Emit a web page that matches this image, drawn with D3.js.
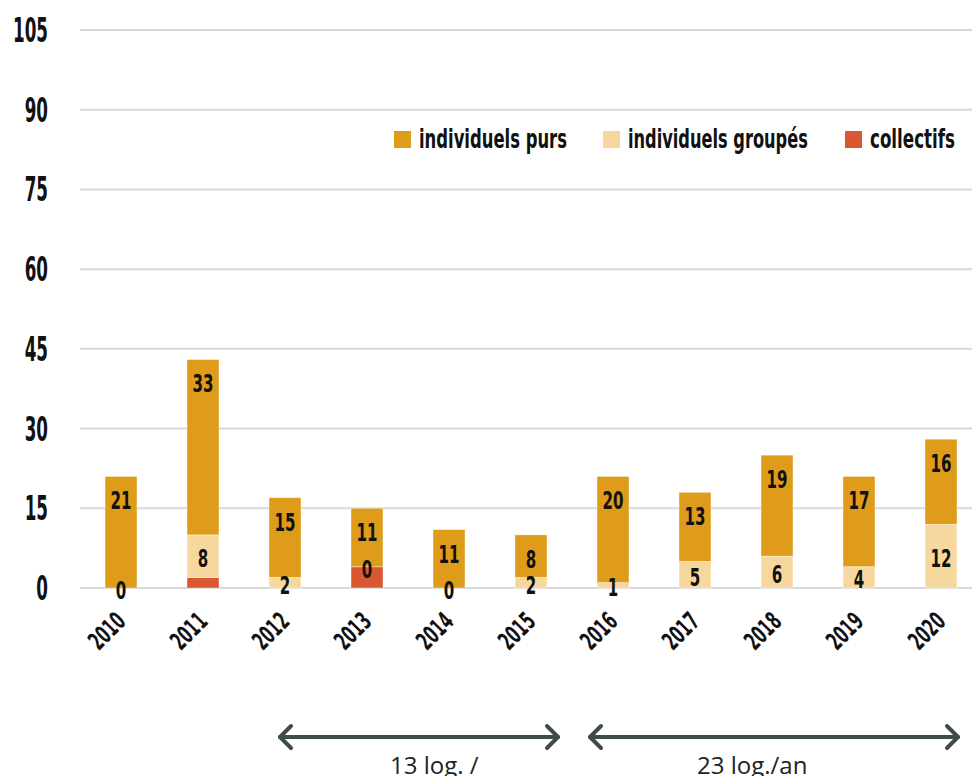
<!DOCTYPE html>
<html><head><meta charset="utf-8">
<script src="https://cdn.jsdelivr.net/npm/d3@7"></script>
<style>body{margin:0;background:#fff}</style>
</head><body>
<svg id="chart" width="972" height="776"></svg>
<script>
const years = ["2010","2011","2012","2013","2014","2015","2016","2017","2018","2019","2020"];
const purs = [21,33,15,11,11,8,20,13,19,17,16];
const groupes = [0,8,2,0,0,2,1,5,6,4,12];
const collectifs = [0,2,0,4,0,0,0,0,0,0,0];
const yTicks = [0,15,30,45,60,75,90,105];
const seriesNames = ["individuels purs","individuels groupés","collectifs"];
const seriesColors = ["#DE9C1A","#F6D89E","#D95832"];
const periodLabels = ["13 log. /","23 log./an"];
const periodFrom = ["2012","2016"];
const periodTo = ["2015","2020"];

const COND = "'DejaVu Sans Condensed','Liberation Sans Narrow',sans-serif";
const svg = d3.select("#chart");
const x = d3.scaleBand().domain(years).range([80,982]).paddingInner(0.61).paddingOuter(0.305);
const y = d3.scaleLinear().domain([0,105]).range([588,30]);

// horizontal scale so that `str` at `size` gets width `target`
function fitScale(str, size, target){
  const t = svg.append("text").attr("font-family",COND).attr("font-weight","bold").attr("font-size",size).text(str);
  const w = t.node().getComputedTextLength();
  t.remove();
  return target / w;
}
const sTick = fitScale("105",33,35);
const sBar = fitScale("33",25,21);
const sX = fitScale("2010",25,40);
const legWidths = [148,180,85];

// grid
svg.append("g").selectAll("line").data(yTicks).join("line")
  .attr("x1",80).attr("x2",972).attr("y1",d=>y(d)).attr("y2",d=>y(d))
  .attr("stroke","#d9d9d9").attr("stroke-width",2);

// y tick labels
svg.append("g").selectAll("text").data(yTicks).join("text")
  .attr("transform",d=>`translate(48,${y(d)+12}) scale(${sTick},1)`)
  .attr("text-anchor","end").attr("font-family",COND).attr("font-weight","bold")
  .attr("font-size",33).attr("fill","#111").text(d=>d);

// stacked data
const rows = years.map((yr,i)=>({year:yr, collectifs:collectifs[i], groupes:groupes[i], purs:purs[i]}));
const keys = ["collectifs","groupes","purs"];
const colorOf = {purs:seriesColors[0], groupes:seriesColors[1], collectifs:seriesColors[2]};
const stacked = d3.stack().keys(keys)(rows);

svg.append("g").selectAll("g").data(stacked).join("g")
  .attr("fill",s=>colorOf[s.key])
  .selectAll("rect").data(s=>s).join("rect")
  .attr("x",d=>x(d.data.year)).attr("width",x.bandwidth())
  .attr("y",d=>y(d[1])).attr("height",d=>y(d[0])-y(d[1]))
  .attr("stroke","rgba(255,255,255,0.5)").attr("stroke-width",0.8);

// labels
const lab = svg.append("g").attr("font-family",COND).attr("font-weight","bold")
  .attr("font-size",25).attr("fill","#111").attr("text-anchor","middle");
const sPurs = stacked.find(s=>s.key==="purs");
const sGr = stacked.find(s=>s.key==="groupes");
lab.selectAll("text.p").data(sPurs).join("text").attr("class","p")
  .attr("transform",d=>`translate(${x(d.data.year)+x.bandwidth()/2},${y(d[1])+33}) scale(${sBar},1)`)
  .text(d=>d.data.purs);
lab.selectAll("text.g").data(sGr).join("text").attr("class","g")
  .attr("transform",d=>`translate(${x(d.data.year)+x.bandwidth()/2},${(y(d[0])+y(d[1]))/2+11}) scale(${sBar},1)`)
  .text(d=>d.data.groupes);

// x labels
svg.append("g").selectAll("text").data(years).join("text")
  .attr("transform",d=>`translate(${x(d)+x.bandwidth()/2+6},${623}) rotate(-45) scale(${sX},1)`)
  .attr("text-anchor","end").attr("font-family",COND).attr("font-weight","bold")
  .attr("font-size",25).attr("fill","#111").text(d=>d);

// legend
const legX = [394,603,845];
const leg = svg.append("g");
seriesNames.forEach((n,i)=>{
  const s = fitScale(n,27,legWidths[i]);
  leg.append("rect").attr("x",legX[i]).attr("y",131).attr("width",17).attr("height",17).attr("fill",seriesColors[i]);
  leg.append("text").attr("transform",`translate(${legX[i]+25},148) scale(${s},1)`)
    .attr("font-family",COND).attr("font-weight","bold").attr("font-size",27).attr("fill","#111").text(n);
});

// period arrows
const cx = d=>x(d)+x.bandwidth()/2;
const arrowX = [[cx(periodFrom[0])-5, cx(periodTo[0])+27],[cx(periodFrom[1])-23, cx(periodTo[1])+17]];
const textX = [390, 697];
const ar = svg.append("g").attr("stroke","#3F4B4B").attr("stroke-width",4).attr("stroke-linecap","round").attr("fill","none");
arrowX.forEach(([a,b],i)=>{
  const yy = 737;
  ar.append("line").attr("x1",a).attr("x2",b).attr("y1",yy).attr("y2",yy);
  ar.append("path").attr("d",`M${a+11},${yy-11} L${a},${yy} L${a+11},${yy+11}`).attr("stroke-linejoin","round");
  ar.append("path").attr("d",`M${b-11},${yy-11} L${b},${yy} L${b-11},${yy+11}`).attr("stroke-linejoin","round");
  svg.append("text").attr("x",textX[i]).attr("y",774).attr("font-family","'Open Sans',sans-serif")
    .attr("font-size",24).attr("fill","#222").text(periodLabels[i]);
});
</script>
</body></html>
